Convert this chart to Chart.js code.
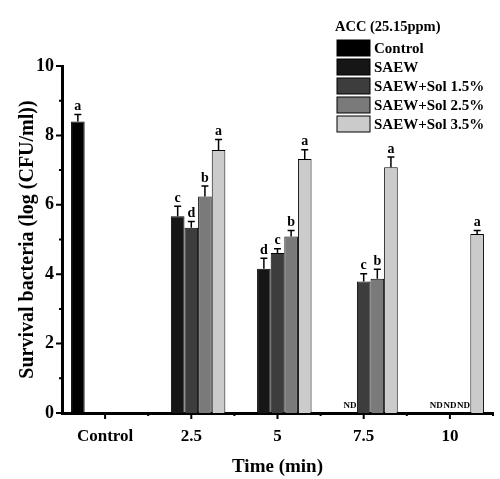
<!DOCTYPE html>
<html>
<head>
<meta charset="utf-8">
<script src="https://cdn.jsdelivr.net/npm/chart.js@4"></script>
<style>
  body { margin: 0; background: #fff; }
  #wrap { width: 500px; height: 479px; position: relative; }
</style>
</head>
<body>
<div id="wrap"><canvas id="myChart"></canvas></div>
<script>
// categories and values
const timeLabels = ["Control", "2.5", "5", "7.5", "10"];

const controlVals = [8.4, null, null, null, null];
const saewVals = [null, 5.67, 4.16, null, null];
const sol15Vals = [null, 5.34, 4.61, 3.79, null];
const sol25Vals = [null, 6.24, 5.09, 3.87, null];
const sol35Vals = [null, 7.58, 7.32, 7.08, 5.16];

const controlErr = [0.2, null, null, null, null];
const saewErr = [null, 0.29, 0.3, null, null];
const sol15Err = [null, 0.18, 0.12, 0.22, null];
const sol25Err = [null, 0.3, 0.17, 0.27, null];
const sol35Err = [null, 0.3, 0.27, 0.3, 0.1];

const controlLetters = ["a", "", "", "", ""];
const saewLetters = ["", "c", "d", "ND", "ND"];
const sol15Letters = ["", "d", "c", "c", "ND"];
const sol25Letters = ["", "b", "b", "b", "ND"];
const sol35Letters = ["", "a", "a", "a", "a"];

const yTicks = [0, 2, 4, 6, 8, 10];

const serif = "'Liberation Serif', 'DejaVu Serif', serif";

const data = {
    labels: timeLabels,
    datasets: [{
        label: "Control",
        data: controlVals,
        err: controlErr,
        letters: controlLetters,
        backgroundColor: "#000000",
    }, {
        label: "SAEW",
        data: saewVals,
        err: saewErr,
        letters: saewLetters,
        backgroundColor: "#161616",
    }, {
        label: "SAEW+Sol 1.5%",
        data: sol15Vals,
        err: sol15Err,
        letters: sol15Letters,
        backgroundColor: "#3d3d3d",
    }, {
        label: "SAEW+Sol 2.5%",
        data: sol25Vals,
        err: sol25Err,
        letters: sol25Letters,
        backgroundColor: "#7a7a7a",
    }, {
        label: "SAEW+Sol 3.5%",
        data: sol35Vals,
        err: sol35Err,
        letters: sol35Letters,
        backgroundColor: "#cbcbcb",
    }]
};
data.datasets.forEach(ds => {
    ds.borderColor = "#000";
    ds.borderWidth = 1;
    ds.borderSkipped = "bottom";
});

// error bars (upwards only) + significance letters / ND
const errorBars = {
    id: "errorBars",
    afterDatasetsDraw(chart) {
        const ctx = chart.ctx;
        const y = chart.scales.y;
        ctx.save();
        chart.data.datasets.forEach((ds, di) => {
            const meta = chart.getDatasetMeta(di);
            meta.data.forEach((bar, i) => {
                const v = ds.data[i];
                const letter = ds.letters[i];
                if (v == null) {
                    if (letter === "ND") {
                        ctx.fillStyle = "#000";
                        ctx.font = "bold 9px " + serif;
                        ctx.textAlign = "center";
                        ctx.textBaseline = "bottom";
                        ctx.fillText("ND", bar.x, y.getPixelForValue(0) - 3);
                    }
                    return;
                }
                const top = y.getPixelForValue(v + ds.err[i]);
                ctx.strokeStyle = "#000";
                ctx.lineWidth = 1.5;
                ctx.beginPath();
                ctx.moveTo(bar.x, bar.y);
                ctx.lineTo(bar.x, top);
                ctx.moveTo(bar.x - 3.5, top);
                ctx.lineTo(bar.x + 3.5, top);
                ctx.stroke();
                if (letter) {
                    ctx.fillStyle = "#000";
                    ctx.font = "bold 14px " + serif;
                    ctx.textAlign = "center";
                    ctx.textBaseline = "bottom";
                    ctx.fillText(letter, bar.x, top - 1);
                }
            });
        });
        ctx.restore();
    }
};

// major/minor tick marks on both axes
const axisTicks = {
    id: "axisTicks",
    afterDraw(chart) {
        const ctx = chart.ctx;
        const xs = chart.scales.x, ys = chart.scales.y;
        const area = chart.chartArea;
        ctx.save();
        ctx.strokeStyle = "#000";
        ctx.lineWidth = 2;
        ctx.beginPath();
        for (let v = 0; v <= 10; v++) {
            const p = ys.getPixelForValue(v);
            const len = v % 2 === 0 ? 6 : 3;
            ctx.moveTo(area.left, p);
            ctx.lineTo(area.left - len, p);
        }
        const step = xs.getPixelForValue(1) - xs.getPixelForValue(0);
        timeLabels.forEach((t, i) => {
            const p = xs.getPixelForValue(i);
            ctx.moveTo(p, area.bottom);
            ctx.lineTo(p, area.bottom + 6);
            const q = p + step / 2;
            ctx.moveTo(q, area.bottom);
            ctx.lineTo(q, area.bottom + 3);
        });
        ctx.stroke();
        ctx.restore();
    }
};

// legend drawn in the top-right corner
const boxLegend = {
    id: "boxLegend",
    afterDraw(chart) {
        const ctx = chart.ctx;
        ctx.save();
        ctx.fillStyle = "#000";
        ctx.font = "bold 14.5px " + serif;
        ctx.textAlign = "left";
        ctx.textBaseline = "middle";
        ctx.fillText("ACC (25.15ppm)", 335, 27);
        chart.data.datasets.forEach((ds, i) => {
            const cy = 48 + i * 19;
            ctx.fillStyle = ds.backgroundColor;
            ctx.fillRect(337, cy - 8, 33, 16);
            ctx.strokeStyle = "#000";
            ctx.lineWidth = 1;
            ctx.strokeRect(337, cy - 8, 33, 16);
            ctx.fillStyle = "#000";
            ctx.font = "bold 15px " + serif;
            ctx.fillText(ds.label, 374, cy + 1);
        });
        ctx.restore();
    }
};

const config = {
    type: "bar",
    data,
    options: {
        responsive: true,
        maintainAspectRatio: false,
        animation: false,
        layout: {
            padding: { top: 66, right: 7, bottom: 0, left: 0 }
        },
        datasets: {
            bar: {
                categoryPercentage: 0.79,
                barPercentage: 1.0,
            }
        },
        plugins: {
            legend: { display: false },
            tooltip: { enabled: false },
        },
        scales: {
            x: {
                grid: { display: false, drawTicks: false },
                border: { display: true, color: "#000", width: 3 },
                ticks: {
                    color: "#000",
                    padding: 13,
                    font: { family: serif, size: 17, weight: "bold" },
                },
                title: {
                    display: true,
                    text: "Time (min)",
                    color: "#000",
                    padding: { top: 10, bottom: 1 },
                    font: { family: serif, size: 19, weight: "bold" },
                },
                afterFit(scale) { scale.height = 66; },
            },
            y: {
                min: 0,
                max: 10,
                afterBuildTicks(scale) {
                    scale.ticks = yTicks.map(v => ({ value: v }));
                },
                grid: { display: false, drawTicks: false },
                border: { display: true, color: "#000", width: 3 },
                ticks: {
                    color: "#000",
                    padding: 8,
                    font: { family: serif, size: 18, weight: "bold" },
                },
                title: {
                    display: true,
                    text: "Survival bacteria (log (CFU/ml))",
                    color: "#000",
                    padding: { top: 16, bottom: 4 },
                    font: { family: serif, size: 20, weight: "bold" },
                },
                afterFit(scale) { scale.width = 62; },
            },
        },
    },
    plugins: [errorBars, axisTicks, boxLegend],
};

const ctx = document.getElementById("myChart");
let myChart = new Chart(ctx, config);
</script>
</body>
</html>
